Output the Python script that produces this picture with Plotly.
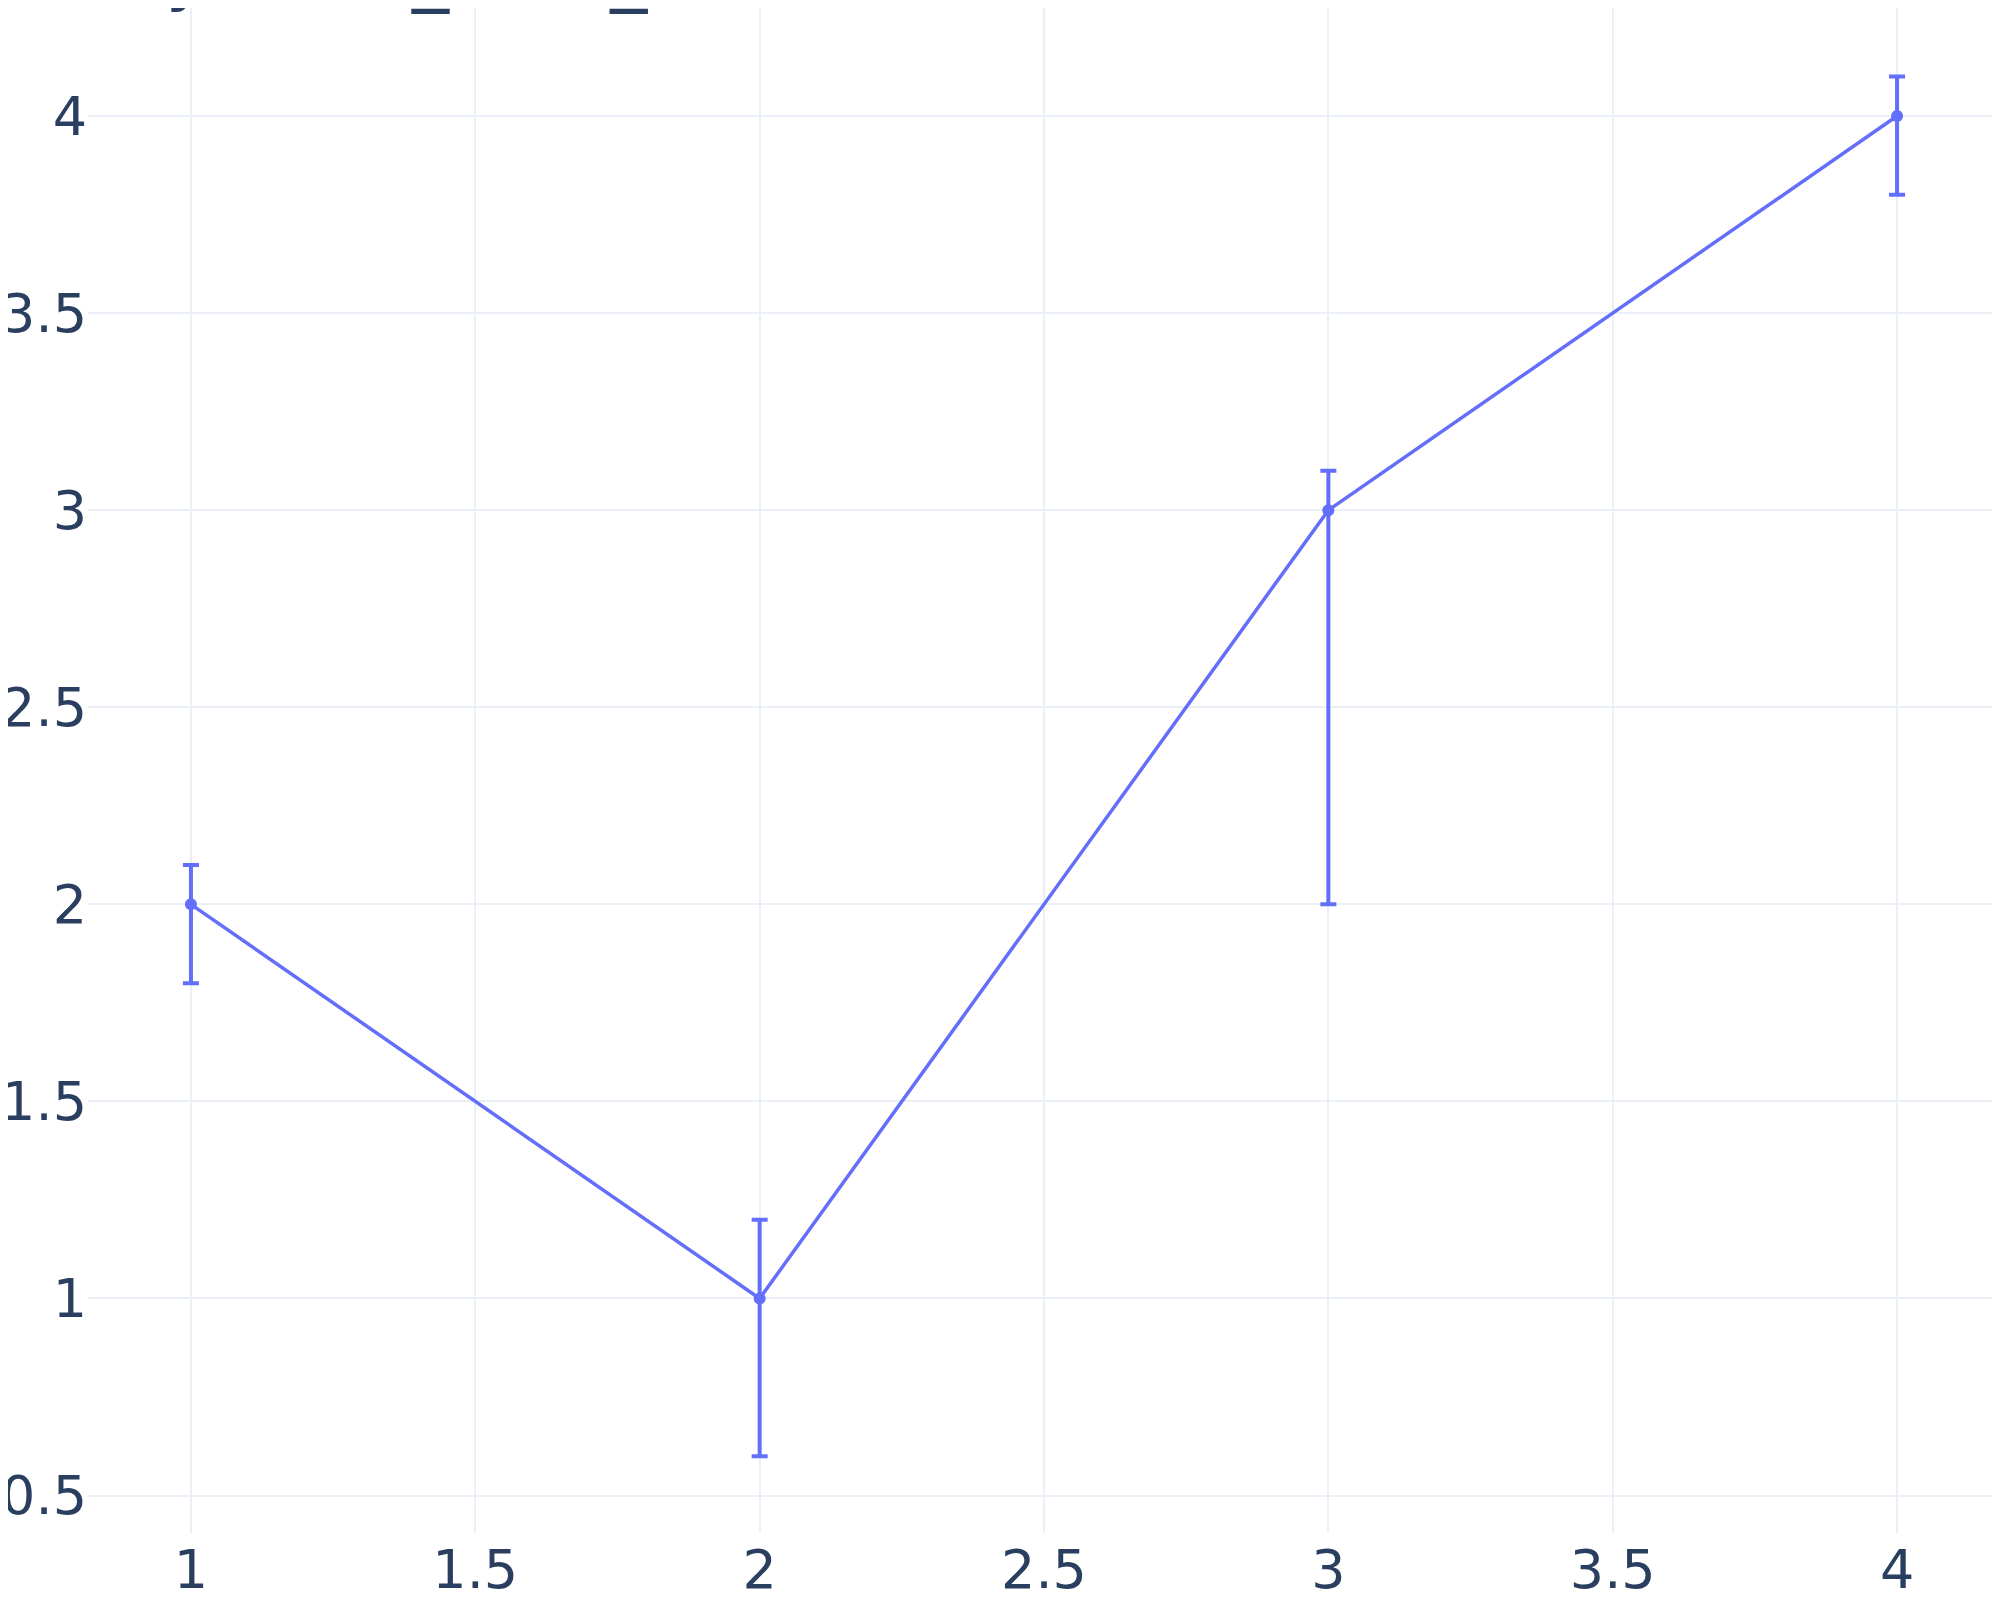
import plotly.graph_objects as go

x_vals = [1, 2, 3, 4]
y_vals = [2, 1, 3, 4]
err_plus = [0.1, 0.2, 0.1, 0.1]
err_minus = [0.2, 0.4, 1.0, 0.2]

TITLE = "Array error_bars_demo"
LINE = "#636efa"

fig = go.Figure()
fig.add_scatter(
    x=x_vals,
    y=y_vals,
    mode="lines+markers",
    line=dict(color=LINE, width=3.5),
    marker=dict(size=12, color=LINE),
    error_y=dict(
        type="data",
        symmetric=False,
        array=err_plus,
        arrayminus=err_minus,
        thickness=4,
        width=8,
        color=LINE,
    ),
)
# title sits mostly above the top edge, as in the reference
fig.add_annotation(
    text=TITLE,
    xref="paper", yref="paper",
    x=0, y=1,
    xanchor="left", yanchor="bottom",
    xshift=-80, yshift=-8,
    showarrow=False,
    font=dict(size=74),
)
fig.update_layout(
    template="plotly_white",
    width=1992,
    height=1592,
    font=dict(family="DejaVu Sans", size=54, color="#2a3f5f"),
    margin=dict(l=80, r=0, t=0, b=67),
    xaxis=dict(range=[0.819, 4.181], dtick=0.5, gridwidth=2, automargin=False,
               showline=False, zeroline=False),
    yaxis=dict(range=[0.405, 4.274], dtick=0.5, gridwidth=2, automargin=False,
               showline=False, zeroline=False),
    showlegend=False,
)
fig.write_html("out.html")
